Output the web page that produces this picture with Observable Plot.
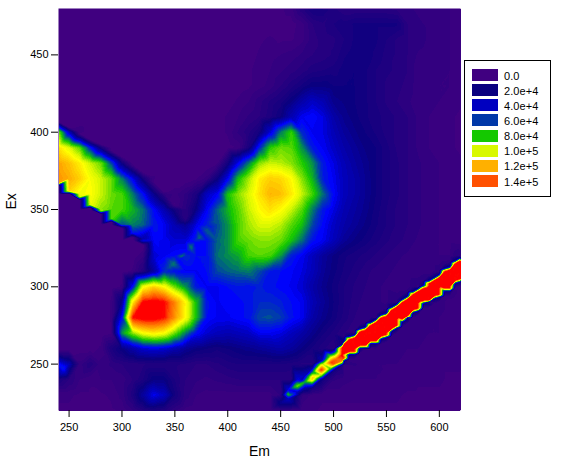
<!DOCTYPE html>
<html><head><meta charset="utf-8">
<script src="https://cdn.jsdelivr.net/npm/d3@7"></script>
<script src="https://cdn.jsdelivr.net/npm/@observablehq/plot@0.6"></script>
<style>
html,body{margin:0;padding:0;background:#fff}
#wrap{position:relative;width:570px;height:461px;font-family:"Liberation Sans",Arial,sans-serif}
#legend{position:absolute;left:464px;top:60px;width:85px;height:135px;border:1px solid #000;background:#fff;box-sizing:content-box}
#legend div.s{position:absolute;left:7px;width:26px;height:12px}
#legend div.t{position:absolute;left:39px;font-size:11px;line-height:12px;color:#000;letter-spacing:.1px}
</style></head><body><div id="wrap"><div id="chart"></div><div id="legend"></div></div>
<script>
const emValues=[240,250,260,270,280,290,300,310,320,330,340,350,360,370,380,390,400,410,420,430,440,450,460,470,480,490,500,510,520,530,540,550,560,570,580,590,600,610,620];
// intensity in thousands; one row for each Ex
const ex480=[0,0,0,0,0,0,0,0,0,0, 0,0,0,0,0,0,0,0,0,0, 0,2,4,12,18,18,13,10,10,10, 10,10,9,8,7,6,5,5,4];
const ex470=[0,0,0,0,0,0,0,0,0,0, 0,0,0,0,0,0,0,0,0,0, 1,1,1,4,10,12,15,16,18,18, 18,18,18,10,8,7,6,5,3];
const ex460=[0,0,0,0,0,0,0,0,0,0, 0,0,0,0,0,0,0,0,1,2, 3,2,2,4,9,11,12,15,18,19, 18,15,12,10,9,7,6,5,3];
const ex450=[0,0,0,0,0,0,0,0,0,0, 0,0,0,0,0,0,0,0,1,3, 4,5,6,8,10,11,13,17,19,19, 17,14,12,10,7,6,6,5,3];
const ex440=[0,0,0,0,0,0,0,0,0,0, 0,0,0,0,0,0,0,0,2,4, 5,7,9,11,14,15,16,19,20,18, 15,13,12,10,6,6,6,5,3];
const ex430=[0,0,0,0,0,0,0,0,0,0, 0,0,0,0,0,0,0,1,2,4, 6,10,14,18,22,22,20,20,20,18, 15,12,11,9,6,6,5,5,3];
const ex420=[0,0,0,0,0,0,0,0,0,0, 0,0,0,0,0,0,1,3,5,9, 13,16,22,30,36,32,24,22,20,18, 15,12,10,8,6,6,5,4,3];
const ex410=[2,1,0,0,0,0,0,0,0,0, 0,0,0,0,0,1,3,5,8,10, 14,20,32,42,45,40,30,24,21,18, 16,14,12,10,7,5,4,3,2];
const ex400=[85,35,4,0,0,0,0,0,0,0, 0,0,0,0,0,1,3,8,12,18, 38,62,76,50,42,40,33,27,23,20, 17,14,12,10,7,5,4,3,2];
const ex390=[108,95,80,48,18,1,0,0,0,0, 0,0,0,0,0,0,1,3,16,50, 75,82,80,65,47,42,36,30,26,22, 20,16,12,10,7,5,4,3,2];
const ex380=[122,115,105,92,82,55,20,2,0,0, 0,0,0,0,0,2,18,42,62,85, 92,90,85,75,65,47,40,33,28,24, 20,16,13,10,8,6,5,4,3];
const ex370=[125,120,112,100,92,82,62,42,18,3, 0,0,0,2,6,20,42,72,88,105, 112,110,102,85,70,48,42,34,30,25, 20,16,13,10,8,6,5,4,3];
const ex360=[0,0,98,102,92,82,78,62,45,24, 8,4,8,15,35,42,72,85,95,108, 118,116,106,92,78,60,44,34,30,25, 20,16,13,10,8,6,5,4,3];
const ex350=[0,0,0,0,85,80,78,70,60,44, 32,18,10,22,42,58,70,80,92,102, 108,102,92,80,62,47,40,32,28,24, 19,15,12,10,8,6,5,4,3];
const ex340=[0,0,0,0,0,0,55,62,58,47, 42,32,25,40,48,55,65,78,88,94, 94,90,80,72,55,44,36,30,26,22, 18,15,12,10,8,6,5,4,3];
const ex330=[0,0,0,0,0,0,0,0,45,43, 42,38,38,50,45,58,65,78,82,85, 85,82,72,60,46,42,34,26,22,19, 16,13,11,9,7,6,5,4,3];
const ex320=[0,0,0,0,0,0,0,0,5,38, 42,45,50,45,45,60,64,68,78,80, 78,66,48,42,35,27,22,18,16,14, 12,10,8,7,6,5,5,5,8];
const ex310=[0,0,0,0,0,0,0,3,12,28, 50,45,42,42,45,55,58,60,62,55, 47,45,43,40,34,26,21,17,14,11, 9,8,7,6,6,5,6,150,150];
const ex300=[0,0,0,0,0,0,3,45,100,112, 102,82,65,47,42,42,45,47,46,48, 46,44,42,38,30,24,19,15,12,10, 8,7,6,6,5,150,150,150,4];
const ex290=[0,0,0,0,0,3,25,105,152,155, 150,128,103,72,46,42,44,44,46,50, 50,48,45,42,33,26,20,15,11,9, 8,7,8,150,150,10,5,4,3];
const ex280=[0,0,0,0,0,3,45,148,155,155, 148,125,102,72,45,42,42,44,46,55, 56,53,46,42,30,24,19,14,10,8, 7,150,150,8,7,6,5,4,3];
const ex270=[0,0,0,0,0,2,65,85,100,105, 100,82,62,45,38,34,32,34,36,42, 42,40,35,30,24,18,14,10,8,150, 150,150,8,7,6,5,5,4,3];
const ex260=[0,0,1,1,3,15,22,30,38,40, 38,32,26,22,20,18,20,22,24,26, 28,30,27,22,17,13,10,150,150,8, 7,6,6,5,5,4,4,3,3];
const ex250=[45,32,6,12,6,8,10,11,12,13, 13,13,12,10,10,12,14,15,15,15, 15,15,14,12,12,90,140,12,8,6, 5,5,5,4,4,4,3,3,3];
const ex240=[15,10,5,3,5,5,6,10,15,22, 22,15,10,8,7,8,9,10,10,10, 10,10,10,30,115,18,8,6,5,5, 5,4,4,4,3,3,3,2,2];
const ex230=[3,3,2,2,2,3,6,14,28,42, 35,18,9,5,4,4,4,4,4,4, 4,8,60,8,4,3,3,3,3,3, 3,3,3,2,2,2,2,2,2];
const ex220=[2,2,1,1,1,2,3,7,12,15, 13,8,4,3,3,3,3,3,3,3, 3,5,5,3,3,2,2,2,2,2, 2,2,2,1,1,1,1,1,1];
const gridRows=[[480,ex480],[470,ex470],[460,ex460],[450,ex450],[440,ex440],[430,ex430],[420,ex420],[410,ex410],[400,ex400],[390,ex390],[380,ex380],[370,ex370],[360,ex360],[350,ex350],[340,ex340],[330,ex330],[320,ex320],[310,ex310],[300,ex300],[290,ex290],[280,ex280],[270,ex270],[260,ex260],[250,ex250],[240,ex240],[230,ex230],[220,ex220]];

// the narrow scatter band: its edges read at each Em
const bandEm=[510,515,520,525,530,535,540,545,550,555,560,565,570,575,580,585,590,595,600,605,610,615,620];
const bandTop=[263,266,267,271,272,275,277,280,281,285,287,290,292,295,297,299,302,304,306,310,311,315,317];
const bandBottom=[254,258,258,262,262,265,265,268,269,273,275,279,281,285,286,291,291,294,295,299,299,304,305];
const bandTopOuter=[265,268,269,273,274,277,279,282,283,287,289,292,294,297,299,301,304,306,308,312,313,317,319];
const bandBottomOuter=[252,256,256,260,260,263,263,266,267,271,273,277,279,283,284,289,289,292,293,297,297,302,303];
const bandTopFar=[268,271,272,276,277,280,282,285,286,290,292,295,297,300,302,304,307,309,311,315,316,320,322];
const bandBottomFar=[249,253,253,257,257,260,260,263,264,268,270,274,276,280,281,286,286,289,290,294,294,299,300];
// beads at the band's low end
const tailEm=[457,457,457,466,466,466,473,473,473,480,480,480,480,480,488.5,488.5,488.5,488.5,488.5,497,497,497,497,497,503,508,508,508,508,508,450];
const tailEx=[230.5,233.5,227.5,236,240,232,238.5,242.5,234.5,241,245,237,248,234,246.3,249.5,243,252.5,240,251,255,247,258,244,253.5,256,260.5,252,263,249,225];
const tailV=[75,40,35,85,40,35,70,35,30,118,60,55,25,15,152,100,90,30,22,142,85,75,28,18,135,152,150,130,20,15,25];
// sharp lower edge of the left band
const edgeEm=[240,250,260,270,280,290,300,310,320];
const edgeEx=[367,362,358,353,349,344,340,335,331];
const edgeV=[120,112,95,98,90,80,55,48,30];
const edgeOuterEx=[365,360,356,351,347,342,338,332,327];
// outer limit of the left band's upper side
const upperEm=[240,240,250,260,270,280,290,300,310,320,330,340,350,360];
const upperEx=[404,406.5,403,399,395,392,388,384,379,374,368,361,353,344];
const upperV=[40,2,2,2,2,2,2,2,2,2,2,2,2,10];
// beads and gaps along the diagonal ridge
const ridgeEm=[349,357,365,373,380,387,353,361,369,376.5,383.5];
const ridgeEx=[315,320,326,332,336.5,342,317.5,323,329,334,339];
const ridgeV=[62,62,62,60,58,56,44,44,44,46,48];
// the small blob at the lower left
const blobEm=[245];
const blobEx=[247];
const blobV=[48];

const samples=[];
for(const [ex,row] of gridRows) row.forEach((v,i)=>samples.push({em:emValues[i],ex,v}));
bandEm.forEach((em,i)=>{
  samples.push({em,ex:bandTop[i],v:150},{em,ex:bandBottom[i],v:150},{em,ex:bandTopOuter[i],v:25},{em,ex:bandBottomOuter[i],v:20},{em,ex:bandTopFar[i],v:9},{em,ex:bandBottomFar[i],v:6});
});
tailEm.forEach((em,i)=>samples.push({em,ex:tailEx[i],v:tailV[i]}));
edgeEm.forEach((em,i)=>{samples.push({em,ex:edgeEx[i],v:edgeV[i]},{em,ex:edgeOuterEx[i],v:0});});
upperEm.forEach((em,i)=>samples.push({em,ex:upperEx[i],v:upperV[i]}));
ridgeEm.forEach((em,i)=>samples.push({em,ex:ridgeEx[i],v:ridgeV[i]}));
blobEm.forEach((em,i)=>samples.push({em,ex:blobEx[i],v:blobV[i]}));

const stopValues=[0,20,36,42,52,60,72,92,100,118,138,148];
const stopColors=["#400080","#0a0080","#0000c8","#0000ff","#0038b0","#007868","#14c800","#d8f800","#ffff00","#ffb000","#ff5000","#ff0000"];
const levels=d3.range(0,152.5,2.5);
const legendLabels=["0.0","2.0e+4","4.0e+4","6.0e+4","8.0e+4","1.0e+5","1.2e+5","1.4e+5"];
const legendColors=["#400080","#0a0080","#0000c0","#0038a8","#14c800","#d8f800","#ffb000","#ff5000"];

const plot=Plot.plot({
  width:570,height:461,marginLeft:58,marginRight:110,marginTop:8,marginBottom:51,
  style:{fontFamily:"'Liberation Sans',Arial,sans-serif",fontSize:"11px",color:"#000",background:"#fff",overflow:"visible"},
  x:{domain:[240,620],label:null},
  y:{domain:[220,480],label:null},
  color:{type:"linear",domain:stopValues,range:stopColors,interpolate:"rgb",clamp:true},
  marks:[
    Plot.frame({fill:"#400080",stroke:null}),
    Plot.contour(samples,{x:"em",y:"ex",value:"v",fill:"value",thresholds:levels,interpolate:"barycentric",pixelSize:1,blur:0,stroke:"none",shapeRendering:"crispEdges"}),
    Plot.axisX({ticks:[250,300,350,400,450,500,550,600],tickSize:7,tickPadding:6,label:null,stroke:"#000"}),
    Plot.axisY({ticks:[250,300,350,400,450],tickSize:7,tickPadding:3,label:null,stroke:"#000"}),
    Plot.text(["Em"],{frameAnchor:"bottom",dy:45,fontSize:14,fill:"#000"}),
    Plot.text(["Ex"],{frameAnchor:"left",dx:-47,rotate:-90,fontSize:14,fill:"#000"})
  ]
});
document.getElementById("chart").appendChild(plot);
const lg=document.getElementById("legend");
legendLabels.forEach((t,i)=>{
  const s=document.createElement("div");s.className="s";s.style.top=(8+i*15.15)+"px";s.style.background=legendColors[i];lg.appendChild(s);
  const l=document.createElement("div");l.className="t";l.style.top=(8.5+i*15.15)+"px";l.textContent=t;lg.appendChild(l);
});
</script></body></html>
